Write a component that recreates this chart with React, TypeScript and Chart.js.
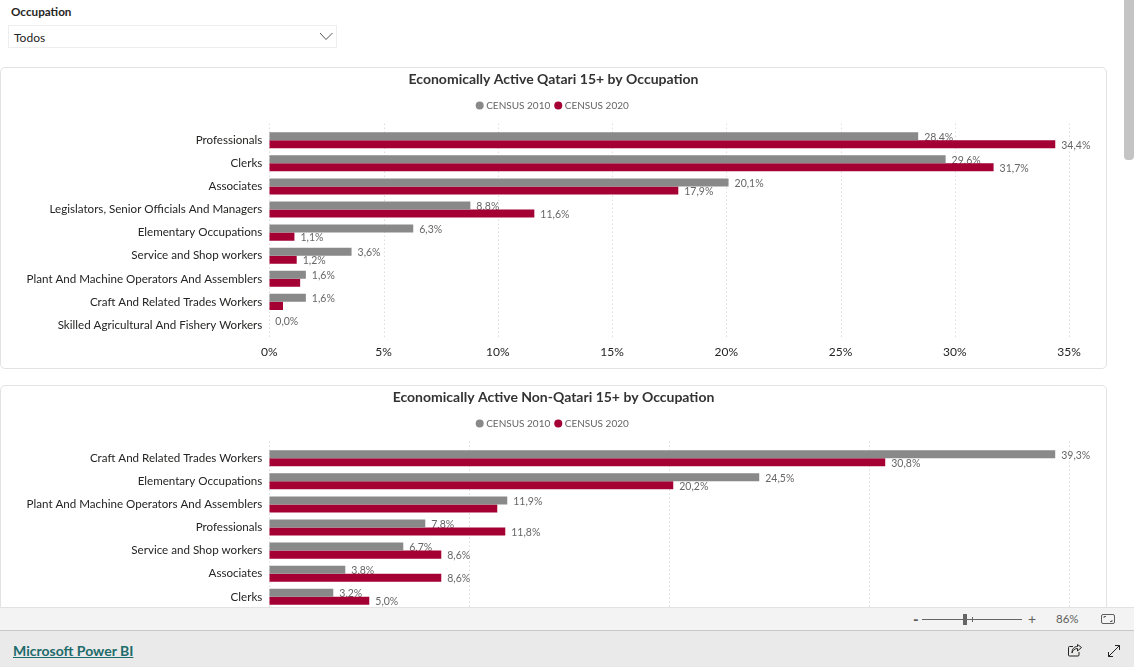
import React, { useEffect, useRef } from "react";
import { Chart } from "chart.js/auto";

const UI_FONT = 'Lato, "Noto Sans", sans-serif';

const seriesNames = ["CENSUS 2010", "CENSUS 2020"];
const seriesColors = ["#898989", "#A50034"];

const qatariTitle = "Economically Active Qatari 15+ by Occupation";
const qatariCategories = [
  "Professionals",
  "Clerks",
  "Associates",
  "Legislators, Senior Officials And Managers",
  "Elementary Occupations",
  "Service and Shop workers",
  "Plant And Machine Operators And Assemblers",
  "Craft And Related Trades Workers",
  "Skilled Agricultural And Fishery Workers",
];
const qatari2010 = [28.4, 29.6, 20.1, 8.8, 6.3, 3.6, 1.6, 1.6, 0.0];
const qatari2020 = [34.4, 31.7, 17.9, 11.6, 1.1, 1.2, 1.35, 0.6, 0.0];
const qatari2010Labels = ["28,4%", "29,6%", "20,1%", "8,8%", "6,3%", "3,6%", "1,6%", "1,6%", "0,0%"];
const qatari2020Labels = ["34,4%", "31,7%", "17,9%", "11,6%", "1,1%", "1,2%", null, null, null];

const nonQatariTitle = "Economically Active Non-Qatari 15+ by Occupation";
const nonQatariCategories = [
  "Craft And Related Trades Workers",
  "Elementary Occupations",
  "Plant And Machine Operators And Assemblers",
  "Professionals",
  "Service and Shop workers",
  "Associates",
  "Clerks",
  "Legislators, Senior Officials And Managers",
  "Skilled Agricultural And Fishery Workers",
];
const nonQatari2010 = [39.3, 24.5, 11.9, 7.8, 6.7, 3.8, 3.2, 1.9, 0.9];
const nonQatari2020 = [30.8, 20.2, 11.4, 11.8, 8.6, 8.6, 5.0, 3.5, 1.5];
const nonQatari2010Labels = ["39,3%", "24,5%", "11,9%", "7,8%", "6,7%", "3,8%", "3,2%", "1,9%", "0,9%"];
const nonQatari2020Labels = ["30,8%", "20,2%", null, "11,8%", "8,6%", "8,6%", "5,0%", "3,5%", "1,5%"];

type Labels = (string | null)[];

function valueLabelPlugin(labels2010: Labels, labels2020: Labels) {
  const drawLabels = (chart: any, index: number, labels: Labels) => {
    const ctx = chart.ctx;
    ctx.save();
    ctx.font = `10.5px ${UI_FONT}`;
    ctx.fillStyle = "#666666";
    ctx.textAlign = "left";
    ctx.textBaseline = "middle";
    chart.getDatasetMeta(index).data.forEach((bar: any, i: number) => {
      const text = labels[i];
      if (text) ctx.fillText(text, bar.x + 6, bar.y + 1);
    });
    ctx.restore();
  };
  return {
    id: "valueLabels",
    beforeDatasetsDraw(chart: any) {
      const { ctx, chartArea, scales } = chart;
      ctx.save();
      ctx.strokeStyle = "#cccccc";
      ctx.lineWidth = 1;
      ctx.setLineDash([1, 3]);
      scales.x.ticks.forEach((tick: any) => {
        const x = Math.round(scales.x.getPixelForValue(tick.value)) + 0.5;
        ctx.beginPath();
        ctx.moveTo(x, chartArea.top - 5);
        ctx.lineTo(x, chartArea.bottom + 2);
        ctx.stroke();
      });
      ctx.restore();
      drawLabels(chart, 0, labels2010);
    },
    afterDatasetsDraw(chart: any) {
      drawLabels(chart, 1, labels2020);
    },
  };
}

type CardProps = {
  top: number;
  title: string;
  categories: string[];
  first: number[];
  second: number[];
  firstLabels: Labels;
  secondLabels: Labels;
  axisMax: number;
  axisStep: number;
};

function BarCard(props: CardProps) {
  const ref = useRef<HTMLCanvasElement | null>(null);
  useEffect(() => {
    const chart = new Chart(ref.current as HTMLCanvasElement, {
      type: "bar",
      data: {
        labels: props.categories,
        datasets: [
          { label: seriesNames[0], data: props.first, backgroundColor: seriesColors[0], categoryPercentage: 0.696, barPercentage: 1 },
          { label: seriesNames[1], data: props.second, backgroundColor: seriesColors[1], categoryPercentage: 0.696, barPercentage: 1 },
        ],
      },
      options: {
        indexAxis: "y",
        responsive: false,
        animation: false,
        devicePixelRatio: 1,
        events: [],
        plugins: {
          title: {
            display: true,
            text: props.title,
            color: "#333333",
            font: { family: UI_FONT, size: 14, weight: 700 },
            padding: { top: 2.6, bottom: 6.5 },
          },
          legend: {
            display: true,
            position: "top",
            align: "center",
            labels: {
              usePointStyle: true,
              pointStyle: "circle",
              boxWidth: 3,
              boxHeight: 5.66,
              padding: 6.5,
              color: "#666666",
              font: { family: UI_FONT, size: 10 },
            },
          },
          subtitle: {
            display: true,
            text: "",
            weight: 500,
            font: { size: 1 },
            padding: { top: 0, bottom: 7.1 },
          },
          tooltip: { enabled: false },
        },
        scales: {
          x: {
            type: "linear",
            min: 0,
            max: props.axisMax,
            grid: { display: false, drawTicks: false },
            border: { display: false },
            afterFit: (scale: any) => {
              scale.height = 31.5;
            },
            ticks: {
              stepSize: props.axisStep,
              includeBounds: false,
              padding: 8,
              color: "#252423",
              font: { family: UI_FONT, size: 12 },
              maxRotation: 0,
              callback: (value: any) => `${value}%`,
            },
          },
          y: {
            grid: { display: false, drawTicks: false },
            border: { display: false },
            afterFit: (scale: any) => {
              scale.width = 268.3;
            },
            ticks: {
              autoSkip: false,
              padding: 7,
              color: "#252423",
              font: { family: UI_FONT, size: 11.6 },
            },
          },
        },
      },
      plugins: [valueLabelPlugin(props.firstLabels, props.secondLabels)],
    } as any);
    return () => chart.destroy();
  }, []);
  return (
    <div
      style={{
        position: "absolute",
        left: 0,
        top: props.top,
        width: 1107,
        height: 302,
        boxSizing: "border-box",
        border: "1px solid #e3e3e3",
        borderRadius: 5,
        background: "#fff",
      }}
    >
      <canvas ref={ref} width={1105} height={300} style={{ display: "block", width: 1105, height: 300 }} />
    </div>
  );
}

const abs = (left: number, top: number, extra: React.CSSProperties = {}): React.CSSProperties => ({
  position: "absolute",
  left,
  top,
  fontFamily: UI_FONT,
  whiteSpace: "nowrap",
  ...extra,
});

export default function App() {
  return (
    <div style={{ position: "fixed", left: 0, top: 0, width: 1134, height: 667, overflow: "hidden", background: "#fff" }}>
      <div style={{ position: "absolute", left: 0, top: 0, width: 1134, height: 607, overflow: "hidden" }}>
        <div style={abs(11, 3, { fontSize: 11.7, lineHeight: "16px", fontWeight: 700, color: "#252423" })}>Occupation</div>
        <div style={{ position: "absolute", left: 8, top: 25, width: 329, height: 23, boxSizing: "border-box", border: "1px solid #eeeeee" }} />
        <div style={abs(14, 30, { fontSize: 12, lineHeight: "16px", color: "#252423" })}>Todos</div>
        <svg style={{ position: "absolute", left: 319, top: 31 }} width="15" height="11">
          <polyline points="1,2 7,8.5 13.5,2" fill="none" stroke="#555" strokeWidth="1" />
        </svg>
        <BarCard
          top={67}
          title={qatariTitle}
          categories={qatariCategories}
          first={qatari2010}
          second={qatari2020}
          firstLabels={qatari2010Labels}
          secondLabels={qatari2020Labels}
          axisMax={36.62}
          axisStep={5}
        />
        <BarCard
          top={385}
          title={nonQatariTitle}
          categories={nonQatariCategories}
          first={nonQatari2010}
          second={nonQatari2020}
          firstLabels={nonQatari2010Labels}
          secondLabels={nonQatari2020Labels}
          axisMax={41.84}
          axisStep={10}
        />
        <div style={{ position: "absolute", left: 1124, top: 0, width: 10, height: 160, background: "#c4c4c4", borderRadius: "0 0 4px 4px" }} />
      </div>

      <div style={{ position: "absolute", left: 0, top: 607, width: 1134, height: 24, boxSizing: "border-box", background: "#f3f3f3", borderTop: "1px solid #e2e2e2", borderBottom: "1px solid #c8c8c8" }} />
      <div style={{ position: "absolute", left: 0, top: 631, width: 1134, height: 36, background: "#eaeaea" }} />

      <div style={abs(913, 610, { fontSize: 15, lineHeight: "18px", fontWeight: 900, color: "#605e5c" })}>-</div>
      <div style={{ position: "absolute", left: 922, top: 619, width: 100, height: 1, background: "#666" }} />
      <div style={{ position: "absolute", left: 963, top: 614, width: 4, height: 11, background: "#666" }} />
      <div style={{ position: "absolute", left: 972, top: 617, width: 1, height: 5, background: "#666" }} />
      <div style={abs(1028, 610, { fontSize: 14, lineHeight: "18px", color: "#605e5c" })}>+</div>
      <div style={abs(1056, 611, { fontSize: 11.5, lineHeight: "16px", color: "#605e5c" })}>86%</div>
      <svg style={{ position: "absolute", left: 1100, top: 613 }} width="16" height="12" fill="none" stroke="#605e5c" strokeWidth="1">
        <rect x="1.5" y="1.5" width="13" height="9" rx="1.5" />
        <polyline points="4,5 4,3.5 6,3.5" />
        <polyline points="12,7 12,8.5 10,8.5" />
      </svg>

      <a href="#" style={abs(13, 641, { fontSize: 14, lineHeight: "20px", fontWeight: 700, color: "#1d6b6b", textDecoration: "underline" })}>Microsoft Power BI</a>
      <svg style={{ position: "absolute", left: 1067, top: 643 }} width="16" height="15" fill="none" stroke="#252423" strokeWidth="1">
        <path d="M6,3.5 H2.5 a1,1 0 0 0 -1,1 V12 a1,1 0 0 0 1,1 H11 a1,1 0 0 0 1,-1 V9" />
        <path d="M5,10 C5.5,7 8,5.5 10.5,5.5 V8 L14.5,4.5 L10.5,1.5 V3.5 C7,3.5 5,6 5,10 Z" />
      </svg>
      <svg style={{ position: "absolute", left: 1107, top: 644 }} width="14" height="14" fill="none" stroke="#252423" strokeWidth="1">
        <path d="M1.5,8 V12.5 H6 M1.5,12.5 L12.5,1.5 M8,1.5 H12.5 V6" />
      </svg>
    </div>
  );
}
